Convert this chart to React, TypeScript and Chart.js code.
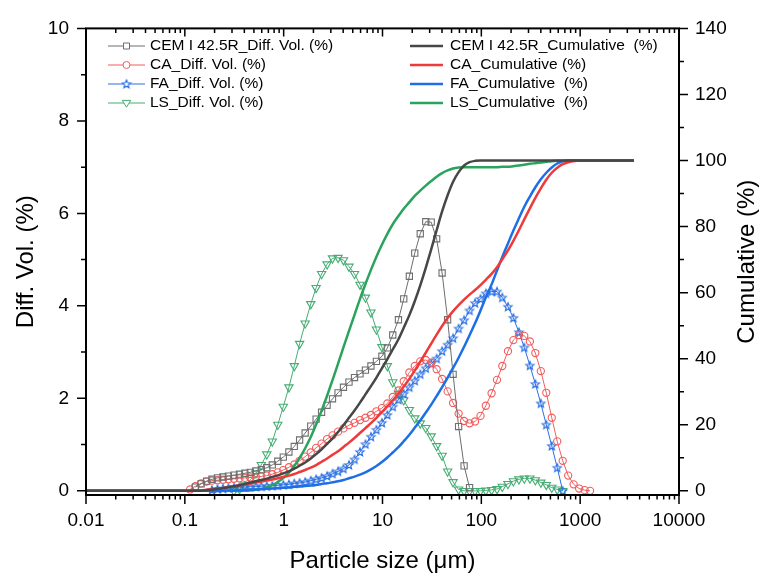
import React, { useEffect, useRef } from "react";
import { Chart, registerables } from "chart.js";

Chart.register(...registerables);

// Particle size classes (µm)
const SIZES = [
  0.01, 0.0114, 0.0129, 0.0147, 0.0167, 0.0189, 0.0215, 0.0244, 0.0278, 0.0315,
  0.0358, 0.0407, 0.0463, 0.0526, 0.0597, 0.0679, 0.0771, 0.0876, 0.0995, 0.113,
  0.128, 0.146, 0.166, 0.188, 0.214, 0.243, 0.276, 0.314, 0.357, 0.405,
  0.46, 0.523, 0.594, 0.675, 0.767, 0.872, 0.991, 1.13, 1.28, 1.45,
  1.65, 1.88, 2.13, 2.42, 2.75, 3.12, 3.55, 4.03, 4.58, 5.21,
  5.92, 6.72, 7.64, 8.68, 9.86, 11.2, 12.7, 14.5, 16.4, 18.7,
  21.2, 24.1, 27.4, 31.1, 35.3, 40.1, 45.6, 51.8, 58.9, 66.9,
  76.0, 86.4, 98.1, 111, 127, 144, 163, 186, 211, 240,
  272, 310, 352, 400, 454, 516, 586, 666, 756, 859,
  976, 1110, 1260, 1430, 1630, 1850, 2100, 2390, 2710, 3080,
  3500,
];

// Differential volume (%), starting at SIZES[..._FROM]
const CEM_DIFF_FROM = 20;
const CEM_DIFF = [
  0.08, 0.15, 0.21, 0.25, 0.28, 0.30, 0.32, 0.34, 0.36, 0.38,
  0.40, 0.43, 0.46, 0.50, 0.56, 0.64, 0.73, 0.84, 0.96, 1.10,
  1.25, 1.40, 1.55, 1.70, 1.85, 1.99, 2.12, 2.24, 2.35, 2.45,
  2.53, 2.61, 2.70, 2.80, 2.91, 3.09, 3.37, 3.70, 4.15, 4.64,
  5.14, 5.56, 5.82, 5.81, 5.45, 4.71, 3.70, 2.52, 1.39, 0.54,
  0.07,
];
const CA_DIFF_FROM = 19;
const CA_DIFF = [
  0.03, 0.10, 0.16, 0.20, 0.22, 0.23, 0.24, 0.25, 0.26, 0.27,
  0.28, 0.29, 0.30, 0.31, 0.33, 0.36, 0.40, 0.45, 0.51, 0.57,
  0.65, 0.74, 0.83, 0.93, 1.02, 1.12, 1.20, 1.28, 1.35, 1.42,
  1.47, 1.53, 1.58, 1.64, 1.72, 1.79, 1.89, 2.03, 2.17, 2.37,
  2.56, 2.70, 2.80, 2.83, 2.77, 2.63, 2.42, 2.15, 1.90, 1.67,
  1.51, 1.46, 1.50, 1.62, 1.84, 2.11, 2.40, 2.70, 3.02, 3.26,
  3.37, 3.35, 3.23, 2.98, 2.59, 2.12, 1.58, 1.07, 0.65, 0.33,
  0.14, 0.05, 0.015, 0.0,
];
const FA_DIFF_FROM = 23;
const FA_DIFF = [
  0.02, 0.04, 0.05, 0.06, 0.07, 0.08, 0.08, 0.09, 0.09, 0.10,
  0.10, 0.11, 0.12, 0.13, 0.14, 0.16, 0.17, 0.19, 0.22, 0.25,
  0.28, 0.32, 0.37, 0.42, 0.48, 0.56, 0.68, 0.84, 1.01, 1.17,
  1.32, 1.47, 1.64, 1.82, 1.97, 2.10, 2.24, 2.38, 2.52, 2.65,
  2.75, 2.86, 3.02, 3.16, 3.30, 3.51, 3.69, 3.90, 4.06, 4.15,
  4.27, 4.31, 4.31, 4.18, 3.98, 3.74, 3.43, 3.10, 2.71, 2.31,
  1.89, 1.43, 0.97, 0.50, 0.0,
];
const LS_DIFF_FROM = 27;
const LS_DIFF = [
  0.0, 0.04, 0.12, 0.24, 0.38, 0.56, 0.79, 1.07, 1.43, 1.82,
  2.24, 2.70, 3.18, 3.62, 4.04, 4.39, 4.69, 4.90, 5.03, 5.04,
  4.99, 4.85, 4.69, 4.46, 4.18, 3.86, 3.49, 3.11, 2.70, 2.35,
  2.10, 1.96, 1.75, 1.57, 1.46, 1.36, 1.18, 0.97, 0.76, 0.42,
  0.19, 0.03, 0.0, 0.0, 0.0, 0.0, 0.01, 0.02, 0.04, 0.09,
  0.15, 0.21, 0.25, 0.27, 0.27, 0.23, 0.18, 0.13, 0.07, 0.03,
  0.0,
];

// Cumulative volume (%), one value per size class
const CEM_CUM = [
  0, 0, 0, 0, 0, 0, 0, 0, 0, 0,
  0, 0, 0, 0, 0, 0, 0, 0, 0, 0,
  0, 0.0, 0.2, 0.3, 0.6, 0.8, 1.1, 1.4, 1.7, 2.1,
  2.5, 2.9, 3.3, 3.7, 4.2, 4.7, 5.3, 5.9, 6.7, 7.6,
  8.6, 9.8, 11.1, 12.6, 14.2, 15.9, 17.8, 19.9, 22.1, 24.3,
  26.7, 29.2, 31.7, 34.3, 37.1, 39.9, 42.8, 45.9, 49.4, 53.2,
  57.4, 62.2, 67.5, 73.1, 78.9, 84.6, 89.5, 93.6, 96.5, 98.5,
  99.5, 99.9, 100, 100, 100, 100, 100, 100, 100, 100,
  100, 100, 100, 100, 100, 100, 100, 100, 100, 100,
  100, 100, 100, 100, 100, 100, 100, 100, 100, 100,
  100,
];
const CA_CUM = [
  0, 0, 0, 0, 0, 0, 0, 0, 0, 0,
  0, 0, 0, 0, 0, 0, 0, 0, 0, 0,
  0.0, 0.1, 0.3, 0.5, 0.7, 0.9, 1.2, 1.4, 1.7, 1.9,
  2.2, 2.5, 2.8, 3.1, 3.4, 3.8, 4.2, 4.6, 5.1, 5.7,
  6.3, 7.0, 7.8, 8.8, 9.8, 10.9, 12.0, 13.3, 14.6, 16.0,
  17.5, 19.0, 20.5, 22.1, 23.8, 25.6, 27.4, 29.4, 31.6, 33.9,
  36.4, 39.1, 41.8, 44.6, 47.3, 49.9, 52.3, 54.4, 56.2, 57.9,
  59.4, 60.8, 62.3, 63.9, 65.7, 67.7, 70.1, 72.8, 75.7, 78.9,
  82.2, 85.5, 88.7, 91.6, 94.2, 96.3, 97.8, 98.9, 99.5, 99.8,
  100, 100, 100, 100, 100, 100, 100, 100, 100, 100,
  100,
];
const FA_CUM = [
  0, 0, 0, 0, 0, 0, 0, 0, 0, 0,
  0, 0, 0, 0, 0, 0, 0, 0, 0, 0,
  0, 0, 0, 0, 0, 0.0, 0.1, 0.1, 0.2, 0.3,
  0.4, 0.4, 0.5, 0.6, 0.7, 0.8, 0.9, 1.0, 1.2, 1.3,
  1.5, 1.6, 1.8, 2.1, 2.3, 2.6, 2.9, 3.3, 3.8, 4.3,
  4.9, 5.6, 6.5, 7.5, 8.7, 10.1, 11.6, 13.2, 15.0, 17.0,
  19.1, 21.3, 23.7, 26.1, 28.7, 31.4, 34.3, 37.2, 40.3, 43.6,
  47.1, 50.7, 54.6, 58.5, 62.5, 66.7, 70.8, 74.9, 78.8, 82.5,
  86.0, 89.1, 91.9, 94.3, 96.3, 97.9, 99.1, 99.8, 100, 100,
  100, 100, 100, 100, 100, 100, 100, 100, 100, 100,
  100,
];
const LS_CUM = [
  0, 0, 0, 0, 0, 0, 0, 0, 0, 0,
  0, 0, 0, 0, 0, 0, 0, 0, 0, 0,
  0, 0, 0, 0, 0, 0, 0, 0, 0, 0.0,
  0.1, 0.3, 0.6, 1.1, 1.7, 2.7, 3.9, 5.5, 7.5, 10.0,
  12.9, 16.3, 20.1, 24.3, 28.8, 33.5, 38.5, 43.5, 48.4, 53.3,
  58.1, 62.6, 66.9, 70.9, 74.5, 77.8, 80.7, 83.2, 85.4, 87.4,
  89.3, 90.9, 92.4, 93.8, 95.1, 96.2, 97.0, 97.6, 97.9, 98.0,
  98.0, 98.0, 98.0, 98.0, 98.0, 98.0, 98.1, 98.1, 98.3, 98.5,
  98.7, 99.0, 99.2, 99.4, 99.6, 99.8, 99.9, 99.9, 100, 100,
  100, 100, 100, 100, 100, 100, 100, 100, 100, 100,
  100,
];

const X_TICKS = [0.01, 0.1, 1, 10, 100, 1000, 10000];
const X_MINOR_MULT = [2, 3, 4, 5, 6, 7, 8, 9];
const LEFT_TICKS = [0, 2, 4, 6, 8, 10];
const LEFT_MINOR = [1, 3, 5, 7, 9];
const RIGHT_TICKS = [0, 20, 40, 60, 80, 100, 120, 140];
const RIGHT_MINOR = [10, 30, 50, 70, 90, 110, 130];

const DIFF_LABELS = [
  "CEM I 42.5R_Diff. Vol. (%)",
  "CA_Diff. Vol. (%)",
  "FA_Diff. Vol. (%)",
  "LS_Diff. Vol. (%)",
];
const CUM_LABELS = [
  "CEM I 42.5R_Cumulative  (%)",
  "CA_Cumulative (%)",
  "FA_Cumulative  (%)",
  "LS_Cumulative  (%)",
];

const FONT = "'Liberation Sans', Arial, Helvetica, sans-serif";
const DIFF_COLORS = ["#6e6e6e", "#f25c5c", "#2a6fe3", "#45ad72"];
const CUM_COLORS = ["#474747", "#ee3a3a", "#1e6fe6", "#2aa35d"];
const MARKERS = ["rect", "circle", "star", "triangleDown"];

function makeStar(color: string, r: number): HTMLCanvasElement {
  const c = document.createElement("canvas");
  const s = Math.ceil(r * 2 + 3);
  c.width = s;
  c.height = s;
  const g = c.getContext("2d")!;
  g.strokeStyle = color;
  g.lineWidth = 1.2;
  g.beginPath();
  for (let k = 0; k < 10; k++) {
    const ang = -Math.PI / 2 + (k * Math.PI) / 5;
    const rr = k % 2 === 0 ? r : r * 0.45;
    g.lineTo(s / 2 + rr * Math.cos(ang), s / 2 + rr * Math.sin(ang) + 0.3);
  }
  g.closePath();
  g.stroke();
  return c;
}

function drawMarker(ctx: CanvasRenderingContext2D, kind: string, x: number, y: number, color: string, star: HTMLCanvasElement) {
  ctx.save();
  ctx.strokeStyle = color;
  ctx.lineWidth = 1;
  ctx.fillStyle = "#ffffff";
  ctx.beginPath();
  if (kind === "rect") {
    ctx.rect(x - 3, y - 3, 6, 6);
    ctx.fill();
    ctx.stroke();
  } else if (kind === "circle") {
    ctx.arc(x, y, 3.5, 0, Math.PI * 2);
    ctx.fill();
    ctx.stroke();
  } else if (kind === "triangleDown") {
    ctx.moveTo(x - 4.2, y - 2.6);
    ctx.lineTo(x + 4.2, y - 2.6);
    ctx.lineTo(x, y + 4.2);
    ctx.closePath();
    ctx.fill();
    ctx.stroke();
  } else {
    ctx.fillRect(x - 3, y - 3, 6, 6);
    ctx.drawImage(star, x - star.width / 2, y - star.height / 2);
  }
  ctx.restore();
}

export default function App() {
  const ref = useRef<HTMLCanvasElement>(null);

  useEffect(() => {
    const canvas = ref.current;
    if (!canvas) return;
    const star = makeStar(DIFF_COLORS[2], 4.3);
    const pts = (from: number, vals: number[]) => vals.map((v, k) => ({ x: SIZES[from + k], y: v }));

    const cumSets = [CEM_CUM, CA_CUM, FA_CUM, LS_CUM].map((vals, i) => ({
      label: CUM_LABELS[i],
      data: pts(0, vals),
      yAxisID: "y1",
      borderColor: CUM_COLORS[i],
      backgroundColor: CUM_COLORS[i],
      borderWidth: 2.5,
      pointRadius: 0,
      fill: false,
      cubicInterpolationMode: "monotone" as const,
      order: 0,
    }));

    const diffDefs: [number, number[]][] = [
      [CEM_DIFF_FROM, CEM_DIFF],
      [CA_DIFF_FROM, CA_DIFF],
      [FA_DIFF_FROM, FA_DIFF],
      [LS_DIFF_FROM, LS_DIFF],
    ];
    const diffSets = diffDefs.map(([from, vals], i) => {
      const base: any = {
        label: DIFF_LABELS[i],
        data: pts(from, vals),
        yAxisID: "y",
        borderColor: DIFF_COLORS[i],
        backgroundColor: DIFF_COLORS[i],
        borderWidth: 1,
        pointBorderColor: DIFF_COLORS[i],
        pointBackgroundColor: "rgba(255,255,255,0)",
        pointBorderWidth: 1.1,
        fill: false,
        tension: 0,
        order: 1,
      };
      if (i === 0) {
        base.pointStyle = "rect";
        base.pointRadius = 4.4;
      } else if (i === 1) {
        base.pointStyle = "circle";
        base.pointRadius = 3.6;
      } else if (i === 2) {
        base.pointStyle = star;
        base.pointRadius = 4.3;
      } else {
        base.pointStyle = "triangle";
        base.pointRotation = 180;
        base.pointRadius = 4.8;
      }
      return base;
    });

    const framePlugin = {
      id: "frameAndLegend",
      afterDraw(chart: any) {
        const { ctx, chartArea: a, scales } = chart;
        const sx = scales.x;
        const sy = scales.y;
        const sy1 = scales.y1;
        ctx.save();
        ctx.strokeStyle = "#000";
        ctx.lineWidth = 2;
        ctx.strokeRect(a.left, a.top, a.right - a.left, a.bottom - a.top);

        ctx.lineWidth = 1.5;
        ctx.beginPath();
        const xMajor = (v: number) => {
          const p = sx.getPixelForValue(v);
          ctx.moveTo(p, a.bottom);
          ctx.lineTo(p, a.bottom + 9);
          ctx.moveTo(p, a.top);
          ctx.lineTo(p, a.top + 8);
        };
        const xMinor = (v: number) => {
          const p = sx.getPixelForValue(v);
          ctx.moveTo(p, a.bottom);
          ctx.lineTo(p, a.bottom + 4.5);
          ctx.moveTo(p, a.top);
          ctx.lineTo(p, a.top + 4.5);
        };
        X_TICKS.forEach(xMajor);
        X_TICKS.slice(0, -1).forEach((d) => X_MINOR_MULT.forEach((m) => xMinor(d * m)));
        LEFT_TICKS.forEach((v) => {
          const p = sy.getPixelForValue(v);
          ctx.moveTo(a.left, p);
          ctx.lineTo(a.left - 9, p);
        });
        LEFT_MINOR.forEach((v) => {
          const p = sy.getPixelForValue(v);
          ctx.moveTo(a.left, p);
          ctx.lineTo(a.left - 5, p);
        });
        RIGHT_TICKS.forEach((v) => {
          const p = sy1.getPixelForValue(v);
          ctx.moveTo(a.right, p);
          ctx.lineTo(a.right + 9, p);
        });
        RIGHT_MINOR.forEach((v) => {
          const p = sy1.getPixelForValue(v);
          ctx.moveTo(a.right, p);
          ctx.lineTo(a.right + 5, p);
        });
        ctx.stroke();

        // Axis titles
        ctx.fillStyle = "#000";
        ctx.font = `24px ${FONT}`;
        ctx.textAlign = "center";
        ctx.textBaseline = "alphabetic";
        ctx.fillText("Particle size (\u03bcm)", (a.left + a.right) / 2, 568);
        const midY = (a.top + a.bottom) / 2;
        ctx.save();
        ctx.translate(32.5, midY);
        ctx.rotate(-Math.PI / 2);
        ctx.fillText("Diff. Vol. (%)", 0, 0);
        ctx.restore();
        ctx.save();
        ctx.translate(754, midY);
        ctx.rotate(-Math.PI / 2);
        ctx.fillText("Cumulative (%)", 0, 0);
        ctx.restore();

        // Legends
        const rows = [46, 65, 84, 103];
        ctx.font = `15.5px ${FONT}`;
        ctx.textAlign = "left";
        ctx.textBaseline = "middle";
        DIFF_LABELS.forEach((lab, i) => {
          const y = rows[i];
          ctx.strokeStyle = DIFF_COLORS[i];
          ctx.lineWidth = 1;
          ctx.beginPath();
          ctx.moveTo(108, y);
          ctx.lineTo(145, y);
          ctx.stroke();
          drawMarker(ctx, MARKERS[i], 126.5, y, DIFF_COLORS[i], star);
          ctx.fillStyle = "#000";
          ctx.fillText(lab, 150, y);
        });
        CUM_LABELS.forEach((lab, i) => {
          const y = rows[i];
          ctx.strokeStyle = CUM_COLORS[i];
          ctx.lineWidth = 2.5;
          ctx.beginPath();
          ctx.moveTo(410, y);
          ctx.lineTo(443, y);
          ctx.stroke();
          ctx.fillStyle = "#000";
          ctx.fillText(lab, 450, y);
        });
        ctx.restore();
      },
    };

    const tickFont = { family: FONT, size: 19 };
    const chart = new Chart(canvas, {
      type: "line",
      data: { datasets: [...cumSets, ...diffSets] as any },
      options: {
        animation: false,
        responsive: false,
        maintainAspectRatio: false,
        events: [],
        layout: { padding: { top: 18, left: 0, right: 0, bottom: 0 } },
        plugins: { legend: { display: false }, tooltip: { enabled: false }, title: { display: false } },
        scales: {
          x: {
            type: "logarithmic",
            position: "bottom",
            min: 0.01,
            max: 10000,
            grid: { display: false, drawTicks: false, tickLength: 0 },
            border: { display: false },
            afterBuildTicks: (s: any) => {
              s.ticks = X_TICKS.map((v) => ({ value: v }));
            },
            afterFit: (s: any) => {
              s.height = 83;
            },
            ticks: {
              font: tickFont,
              color: "#000",
              padding: 14,
              maxRotation: 0,
              autoSkip: false,
              callback: (v: any) => String(v),
            },
          },
          y: {
            type: "linear",
            position: "left",
            min: -0.09,
            max: 10,
            grid: { display: false, drawTicks: false, tickLength: 0 },
            border: { display: false },
            afterBuildTicks: (s: any) => {
              s.ticks = LEFT_TICKS.map((v) => ({ value: v }));
            },
            afterFit: (s: any) => {
              s.width = 86;
            },
            ticks: { font: tickFont, color: "#000", padding: 17, autoSkip: false, callback: (v: any) => String(v) },
          },
          y1: {
            type: "linear",
            position: "right",
            min: -1.26,
            max: 140,
            grid: { display: false, drawTicks: false, tickLength: 0 },
            border: { display: false },
            afterBuildTicks: (s: any) => {
              s.ticks = RIGHT_TICKS.map((v) => ({ value: v }));
            },
            afterFit: (s: any) => {
              s.width = 92;
            },
            ticks: { font: tickFont, color: "#000", padding: 16, autoSkip: false, callback: (v: any) => String(v) },
          },
        },
      } as any,
      plugins: [framePlugin],
    });
    return () => chart.destroy();
  }, []);

  return (
    <div style={{ position: "absolute", left: 0, top: 0, width: 771, height: 578, background: "#ffffff" }}>
      <canvas ref={ref} width={771} height={578} style={{ display: "block", width: 771, height: 578 }} />
    </div>
  );
}
